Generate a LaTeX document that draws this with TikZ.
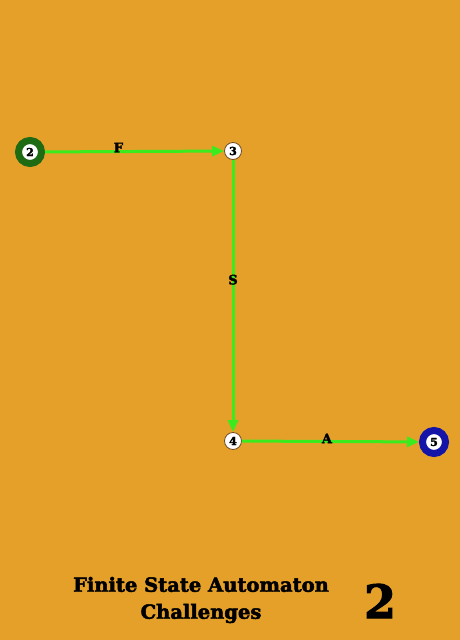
\documentclass[tikz,border=0pt]{standalone}
\usepackage{fontspec}
\setmainfont{DejaVu Serif}
\newfontfamily\heavyfont[FakeBold=2.5]{DejaVu Serif Bold}
\usetikzlibrary{arrows.meta}
\definecolor{bgorange}{HTML}{E5A02A}
\definecolor{edgegreen}{HTML}{3CEB1E}
\definecolor{ringgreen}{HTML}{1E6B14}
\definecolor{ringblue}{HTML}{1414A8}
\tikzset{
	ball/.style={circle, fill=white, inner sep=0pt, minimum size=17pt, draw=brown!60!black, line width=0.8pt, font=\heavyfont\fontsize{11}{11}\selectfont},
	bigball/.style={ball, minimum size=23pt, line width=7pt},
	edge/.style={-{Triangle[length=12pt,width=10pt]}, edgegreen, line width=3pt},
	letter/.style={font=\heavyfont\fontsize{13}{13}\selectfont, text=black}
}
\begin{document}
\begin{tikzpicture}[x=1pt, y=-1pt]
	\fill[bgorange] (0, 0) rectangle (460, 640);
	\useasboundingbox (0, 0) rectangle (460, 640);
	
	\draw node[bigball, draw=ringgreen] at (30, 152) (q2) {2};
	\draw node[ball] at (233, 151) (q3) {3};
	\draw node[ball] at (233, 441) (q4) {4};
	\draw node[bigball, draw=ringblue] at (434, 442) (q5) {5};
	
	\draw [edge]   (q2) -- (q3) node[pos=.41, letter, yshift=4pt] {F} ;
	\draw [edge]   (q3) -- (q4) node[pos=.44, letter] {S} ;
	\draw [edge]   (q4) -- (q5) node[pos=.48, letter, yshift=3pt] {A} ;
	
	\draw node[font=\heavyfont\fontsize{19.5}{27}\selectfont, align=center] at (201, 600) (title) {Finite State Automaton\\Challenges};
	\draw node[font=\heavyfont\fontsize{46}{46}\selectfont] at (380, 601) (num) {2};
\end{tikzpicture}
\end{document}
